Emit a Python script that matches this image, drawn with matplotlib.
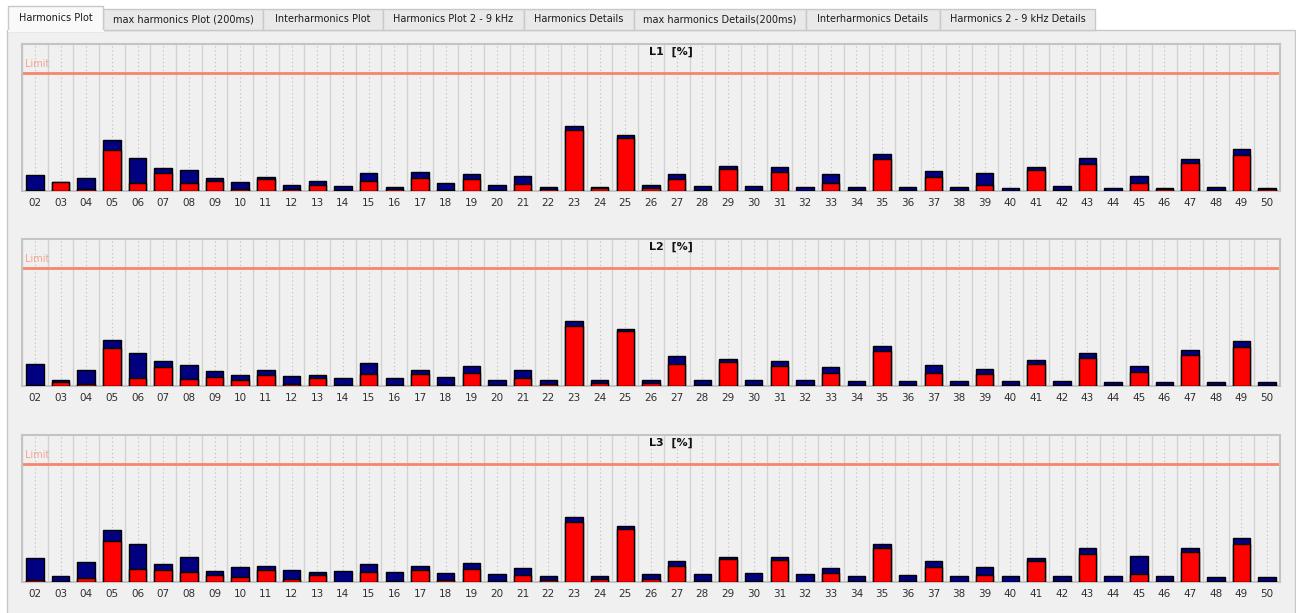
import matplotlib
matplotlib.use("Agg")
import matplotlib.pyplot as plt
from matplotlib.patches import Rectangle
import numpy as np

W, H = 1296, 613

harmonics = ["%02d" % h for h in range(2, 51)]

L1_max = [0.80, 0.44, 0.64, 2.54, 1.67, 1.15, 1.05, 0.64, 0.44, 0.69, 0.29, 0.49, 0.24, 0.90, 0.19, 0.95, 0.40,
          0.85, 0.29, 0.75, 0.19, 3.24, 0.19, 2.79, 0.29, 0.85, 0.24, 1.27, 0.24, 1.20, 0.19, 0.85, 0.19, 1.87,
          0.19, 1.00, 0.19, 0.90, 0.14, 1.20, 0.24, 1.67, 0.14, 0.75, 0.14, 1.60, 0.19, 2.12, 0.14]
L1_avg = [0.05, 0.43, 0.10, 2.05, 0.42, 0.89, 0.42, 0.49, 0.12, 0.59, 0.12, 0.32, 0.07, 0.52, 0.09, 0.67, 0.07,
          0.62, 0.05, 0.37, 0.12, 3.07, 0.17, 2.65, 0.17, 0.62, 0.05, 1.12, 0.07, 0.94, 0.00, 0.42, 0.07, 1.59,
          0.07, 0.69, 0.04, 0.32, 0.00, 1.04, 0.07, 1.34, 0.00, 0.42, 0.09, 1.39, 0.07, 1.79, 0.09]

L2_max = [1.10, 0.32, 0.79, 2.30, 1.65, 1.25, 1.04, 0.74, 0.54, 0.79, 0.49, 0.54, 0.39, 1.15, 0.39, 0.79, 0.44,
          1.00, 0.29, 0.79, 0.29, 3.24, 0.29, 2.87, 0.32, 1.49, 0.29, 1.35, 0.29, 1.25, 0.29, 0.95, 0.24, 2.00,
          0.24, 1.04, 0.24, 0.84, 0.24, 1.30, 0.24, 1.65, 0.19, 0.99, 0.19, 1.80, 0.19, 2.27, 0.19]
L2_avg = [0.04, 0.20, 0.10, 1.89, 0.40, 0.97, 0.35, 0.45, 0.30, 0.55, 0.10, 0.40, 0.05, 0.60, 0.05, 0.60, 0.05,
          0.65, 0.05, 0.40, 0.10, 3.00, 0.15, 2.75, 0.15, 1.12, 0.05, 1.19, 0.05, 1.02, 0.05, 0.67, 0.04, 1.74,
          0.04, 0.67, 0.04, 0.60, 0.04, 1.12, 0.04, 1.39, 0.04, 0.72, 0.04, 1.54, 0.04, 1.95, 0.04]

L3_max = [1.20, 0.29, 1.00, 2.59, 1.92, 0.89, 1.25, 0.54, 0.75, 0.80, 0.59, 0.49, 0.54, 0.89, 0.49, 0.80, 0.44,
          0.95, 0.39, 0.70, 0.30, 3.24, 0.30, 2.79, 0.39, 1.05, 0.39, 1.25, 0.44, 1.25, 0.39, 0.70, 0.30, 1.92,
          0.34, 1.05, 0.29, 0.75, 0.29, 1.20, 0.29, 1.72, 0.29, 1.30, 0.29, 1.72, 0.24, 2.19, 0.24]
L3_avg = [0.10, 0.07, 0.22, 2.05, 0.67, 0.62, 0.52, 0.37, 0.27, 0.62, 0.17, 0.37, 0.00, 0.52, 0.07, 0.62, 0.10,
          0.67, 0.07, 0.37, 0.10, 3.02, 0.17, 2.65, 0.17, 0.82, 0.07, 1.14, 0.07, 1.09, 0.00, 0.47, 0.07, 1.69,
          0.07, 0.74, 0.00, 0.37, 0.00, 1.04, 0.07, 1.39, 0.00, 0.42, 0.07, 1.49, 0.07, 1.89, 0.07]

phases = ["L1", "L2", "L3"]
max_values = [L1_max, L2_max, L3_max]
avg_values = [L1_avg, L2_avg, L3_avg]
limit_value = 5.92
y_top = 7.35

tab_labels = ["Harmonics Plot", "max harmonics Plot (200ms)", "Interharmonics Plot", "Harmonics Plot 2 - 9 kHz",
              "Harmonics Details", "max harmonics Details(200ms)", "Interharmonics Details",
              "Harmonics 2 - 9 kHz Details"]
tab_edges = [8, 103, 263, 383, 524, 634, 806, 940, 1095]

fig = plt.figure(figsize=(W / 100, H / 100), dpi=100)
fig.patch.set_facecolor("white")

# background / tab widget
bg = fig.add_axes([0, 0, 1, 1], zorder=0)
bg.set_xlim(0, W)
bg.set_ylim(H, 0)
bg.axis("off")
bg.add_patch(Rectangle((7, 30), 1288, 590, facecolor="#f0f0f0", edgecolor="#c8c8c8", lw=1))
for i, lab in enumerate(tab_labels):
    x0, x1 = tab_edges[i], tab_edges[i + 1]
    if i == 0:
        bg.add_patch(Rectangle((x0, 6), x1 - x0, 25, facecolor="#f9f9f9", edgecolor="#c8c8c8", lw=1, zorder=3))
        bg.plot([x0 + 0.5, x1 - 0.5], [30.5, 30.5], color="#f9f9f9", lw=1.5, zorder=4)
        ty = 18
    else:
        bg.add_patch(Rectangle((x0, 8.5), x1 - x0, 21.5, facecolor="#e9e9e9", edgecolor="#c8c8c8", lw=1, zorder=2))
        ty = 19.5
    bg.text((x0 + x1) / 2, ty, lab, ha="center", va="center", fontsize=7, color="#1a1a1a",
            family="DejaVu Sans", zorder=5)

plot_left, plot_right = 22, 1280
plot_tops = [44, 239, 435]
plot_h = 147
x = np.arange(len(harmonics))

for p in range(3):
    top = plot_tops[p]
    ax = fig.add_axes([plot_left / W, 1 - (top + plot_h) / H, (plot_right - plot_left) / W, plot_h / H], zorder=2)
    ax.set_facecolor("#f0f0f0")
    ax.set_xlim(-0.5, len(harmonics) - 0.5)
    ax.set_ylim(0, y_top)
    for s in ax.spines.values():
        s.set_color("#c4c4c4")
        s.set_linewidth(1.5)
    for b in np.arange(-0.5, len(harmonics), 1.0):
        ax.axvline(b, color="#d2d2d2", lw=1.0, zorder=1)
    for c in x:
        ax.axvline(c, color="#bdbdbd", lw=0.8, ls=(0, (1, 2.5)), zorder=1)
    ax.axhline(limit_value, color="#f7856b", lw=2, zorder=2)
    ax.text(0.002, limit_value + 0.17, "Limit", transform=ax.get_yaxis_transform(), ha="left", va="bottom",
            fontsize=7, color="#f5a393")
    ax.bar(x, max_values[p], width=0.68, color="#000080", edgecolor="black", lw=1, zorder=3)
    ax.bar(x, avg_values[p], width=0.68, color="#ff0000", edgecolor="black", lw=1, zorder=4)
    ax.text((671 - plot_left) / (plot_right - plot_left), 1 - 7.5 / plot_h, phases[p] + "  [%]",
            transform=ax.transAxes, ha="center", va="center", fontsize=8, fontweight="bold", color="#111111")
    ax.set_xticks(x)
    ax.set_xticklabels(harmonics, fontsize=7.5, color="#303030")
    ax.tick_params(axis="x", length=0, pad=5)
    ax.set_yticks([])

fig.savefig("out.png", dpi=100, facecolor=fig.get_facecolor())
